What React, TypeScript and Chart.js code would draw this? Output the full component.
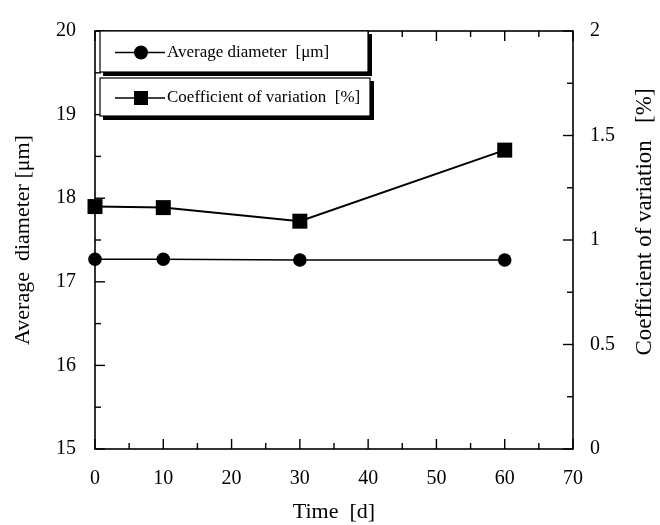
import React, { useEffect, useRef } from "react";
import { Chart, registerables } from "chart.js";

Chart.register(...registerables);

const timeDays = [0, 10, 30, 60];
const avgDiameter = [17.27, 17.27, 17.26, 17.26];
const coefVariation = [1.16, 1.155, 1.09, 1.43];

const seriesLabels = ["Average diameter  [μm]", "Coefficient of variation  [%]"];
const xTitle = "Time  [d]";
const yLeftTitle = "Average  diameter [μm]";
const yRightTitle = "Coefficient of variation   [%]";

const SERIF = '"Liberation Serif", "Times New Roman", serif';

const framePlugin = {
  id: "framePlugin",
  afterDatasetsDraw(chart: any) {
    const { ctx, chartArea: a, scales } = chart;
    ctx.save();
    ctx.strokeStyle = "#000";
    ctx.lineWidth = 1.6;
    ctx.strokeRect(a.left, a.top, a.right - a.left, a.bottom - a.top);

    const mids = (ticks: any[]) => {
      const out: number[] = [];
      for (let i = 0; i < ticks.length - 1; i++) out.push((ticks[i].value + ticks[i + 1].value) / 2);
      return out;
    };
    const major = 10;
    const minor = 6;
    ctx.lineWidth = 1.4;
    const xs = scales.x;
    const drawX = (vals: number[], len: number) => {
      vals.forEach((v) => {
        const px = xs.getPixelForValue(v);
        ctx.beginPath();
        ctx.moveTo(px, a.bottom);
        ctx.lineTo(px, a.bottom - len);
        ctx.moveTo(px, a.top);
        ctx.lineTo(px, a.top + len);
        ctx.stroke();
      });
    };
    drawX(xs.ticks.map((t: any) => t.value), major);
    drawX(mids(xs.ticks), minor);
    const yl = scales.y;
    const drawYL = (vals: number[], len: number) => {
      vals.forEach((v) => {
        const py = yl.getPixelForValue(v);
        ctx.beginPath();
        ctx.moveTo(a.left, py);
        ctx.lineTo(a.left + len, py);
        ctx.stroke();
      });
    };
    drawYL(yl.ticks.map((t: any) => t.value), major);
    drawYL(mids(yl.ticks), minor);
    const yr = scales.y1;
    const drawYR = (vals: number[], len: number) => {
      vals.forEach((v) => {
        const py = yr.getPixelForValue(v);
        ctx.beginPath();
        ctx.moveTo(a.right, py);
        ctx.lineTo(a.right - len, py);
        ctx.stroke();
      });
    };
    drawYR(yr.ticks.map((t: any) => t.value), major);
    drawYR(mids(yr.ticks), minor);

    ctx.fillStyle = "#000";
    ctx.font = `23px ${SERIF}`;
    ctx.textAlign = "center";
    ctx.textBaseline = "middle";
    ctx.translate(645, 222);
    ctx.rotate(-Math.PI / 2);
    ctx.fillText(yRightTitle, 0, 0);
    ctx.restore();

    ctx.save();
    const boxes = [
      { x: a.left + 5, y: a.top, w: 268, h: 41 },
      { x: a.left + 5, y: a.top + 47, w: 270, h: 38 },
    ];
    chart.data.datasets.forEach((ds: any, i: number) => {
      const b = boxes[i];
      ctx.fillStyle = "#fff";
      ctx.fillRect(b.x, b.y, b.w, b.h);
      ctx.strokeStyle = "#000";
      ctx.lineWidth = 1.2;
      ctx.strokeRect(b.x, b.y, b.w, b.h);
      ctx.fillStyle = "#000";
      ctx.fillRect(b.x + 3, b.y + b.h, b.w + 1, 4);
      ctx.fillRect(b.x + b.w, b.y + 3, 4, b.h + 1);
      const cy = b.y + b.h / 2 + 1;
      ctx.lineWidth = 1.5;
      ctx.beginPath();
      ctx.moveTo(a.left + 20, cy);
      ctx.lineTo(a.left + 70, cy);
      ctx.stroke();
      const mx = a.left + 46;
      if (ds.pointStyle === "circle") {
        ctx.beginPath();
        ctx.arc(mx, cy, 7, 0, Math.PI * 2);
        ctx.fill();
      } else {
        ctx.fillRect(mx - 7, cy - 7, 14, 14);
      }
      ctx.font = `17px ${SERIF}`;
      ctx.textAlign = "left";
      ctx.textBaseline = "middle";
      ctx.fillText(ds.label, a.left + 72, cy);
    });
    ctx.restore();
  },
};

const bgPlugin = {
  id: "bgPlugin",
  beforeDraw(chart: any) {
    const { ctx, width, height } = chart;
    ctx.save();
    ctx.fillStyle = "#fff";
    ctx.fillRect(0, 0, width, height);
    ctx.restore();
  },
};

export default function App() {
  const ref = useRef<HTMLCanvasElement | null>(null);
  useEffect(() => {
    if (!ref.current) return;
    const tickFont = { family: SERIF, size: 20 };
    const chart = new Chart(ref.current, {
      type: "line",
      data: {
        datasets: [
          {
            label: seriesLabels[0],
            data: timeDays.map((t, i) => ({ x: t, y: avgDiameter[i] })),
            yAxisID: "y",
            borderColor: "#000",
            backgroundColor: "#000",
            borderWidth: 1.5,
            pointStyle: "circle",
            pointRadius: 6.8,
            pointBorderWidth: 0,
            clip: false,
          },
          {
            label: seriesLabels[1],
            data: timeDays.map((t, i) => ({ x: t, y: coefVariation[i] })),
            yAxisID: "y1",
            borderColor: "#000",
            backgroundColor: "#000",
            borderWidth: 2,
            pointStyle: "rect",
            pointRadius: 10.6,
            pointBorderWidth: 0,
            clip: false,
          },
        ],
      },
      options: {
        animation: false,
        responsive: true,
        maintainAspectRatio: false,
        layout: { padding: { top: 27, left: 0, right: 0, bottom: 0 } },
        plugins: { legend: { display: false }, tooltip: { enabled: false } },
        scales: {
          x: {
            type: "linear",
            min: 0,
            max: 70,
            ticks: { stepSize: 10, font: tickFont, color: "#000", padding: 18, maxRotation: 0 },
            grid: { drawOnChartArea: false, drawTicks: false },
            border: { display: false },
            title: {
              display: true,
              text: xTitle,
              font: { family: SERIF, size: 22 },
              color: "#000",
              padding: { top: 0, bottom: 0 },
            },
            afterFit(s: any) {
              s.height = 76;
            },
          },
          y: {
            type: "linear",
            position: "left",
            min: 15,
            max: 20,
            ticks: { stepSize: 1, font: tickFont, color: "#000", padding: 19 },
            grid: { drawOnChartArea: false, drawTicks: false },
            border: { display: false },
            title: {
              display: true,
              text: yLeftTitle,
              font: { family: SERIF, size: 22 },
              color: "#000",
              padding: { top: 10, bottom: 0 },
            },
            afterFit(s: any) {
              s.width = 95;
            },
          },
          y1: {
            type: "linear",
            position: "right",
            min: 0,
            max: 2,
            ticks: {
              stepSize: 0.5,
              font: tickFont,
              color: "#000",
              padding: 17,
              callback: (v: any) => String(Number(v)),
            },
            grid: { drawOnChartArea: false, drawTicks: false },
            border: { display: false },
            afterFit(s: any) {
              s.width = 87;
            },
          },
        },
      } as any,
      plugins: [bgPlugin, framePlugin],
    });
    return () => chart.destroy();
  }, []);
  return (
    <div style={{ position: "absolute", left: 0, top: 0, width: 660, height: 525, background: "#fff" }}>
      <canvas ref={ref} />
    </div>
  );
}
